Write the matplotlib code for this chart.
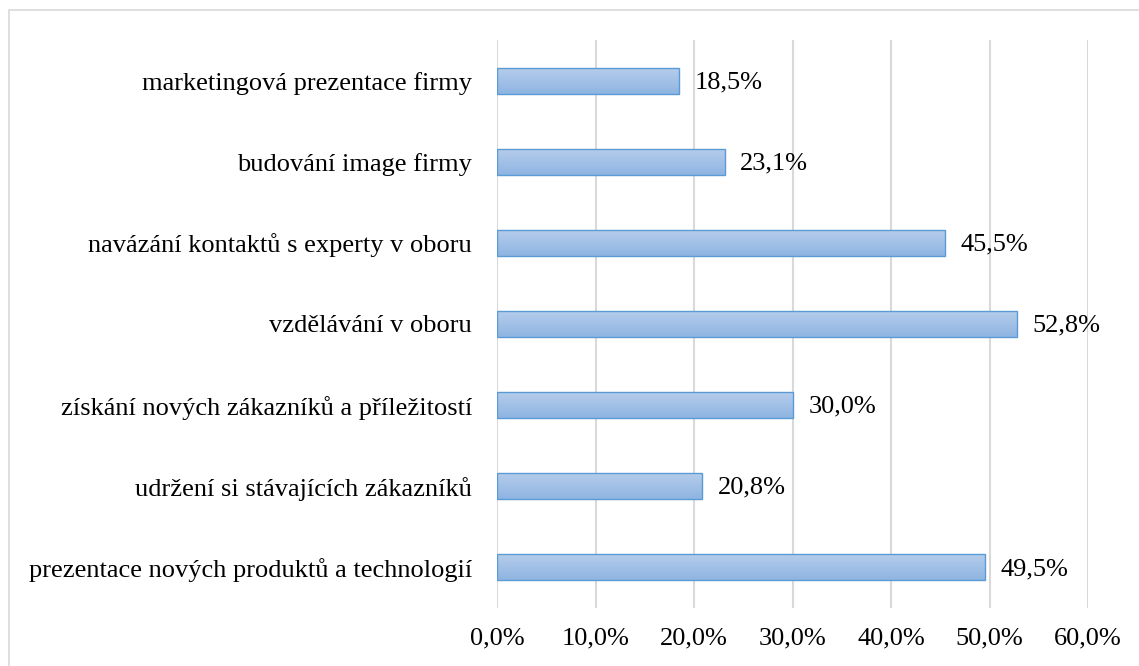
import numpy as np
import matplotlib
matplotlib.use('Agg')
import matplotlib.pyplot as plt
from matplotlib.patches import Rectangle
from matplotlib.colors import LinearSegmentedColormap

# ---- data (bottom -> top) ----
categories = [
    'prezentace nových produktů a technologií',
    'udržení si stávajících zákazníků',
    'získání nových zákazníků a příležitostí',
    'vzdělávání v oboru',
    'navázání kontaktů s experty v oboru',
    'budování image firmy',
    'marketingová prezentace firmy',
]
values = [49.5, 20.8, 30.0, 52.8, 45.5, 23.1, 18.5]
xticks = [0, 10, 20, 30, 40, 50, 60]

plt.rcParams['font.family'] = ['Liberation Serif', 'DejaVu Serif']
FS = 19

W, H = 1139, 666
fig = plt.figure(figsize=(W / 100, H / 100), dpi=100, facecolor='white')
ax = fig.add_axes([497 / W, 58 / H, (1088 - 497) / W, (608 - 40) / H])

# outer chart border (only top/left visible in the reference)
fig.patches.append(Rectangle((9 / W, -0.1), 1.2, 1.1 - 10 / H,
                             transform=fig.transFigure, fill=False,
                             edgecolor='#d9d9d9', lw=1.2, zorder=0))

y = np.arange(len(categories))
bars = ax.barh(y, values, height=0.32, color='none', edgecolor='#5b9bd5',
               lw=1.0, zorder=3)

# vertical gradient fill for each bar
cmap = LinearSegmentedColormap.from_list('g', ['#8fb4e2', '#b5cdeb'])
grad = np.linspace(0, 1, 64).reshape(-1, 1)
for b in bars:
    x0, y0 = b.get_x(), b.get_y()
    w, h = b.get_width(), b.get_height()
    im = ax.imshow(grad, cmap=cmap, aspect='auto', origin='lower',
                   extent=(x0, x0 + w, y0, y0 + h), zorder=2)
    im.set_clip_path(b)

for yi, v in zip(y, values):
    ax.text(v + 1.6, yi - 0.02, f'{v:.1f}%'.replace('.', ','), va='center',
            ha='left', fontsize=FS, color='black')

ax.set_xlim(0, 60)
ax.set_ylim(-0.5, len(categories) - 0.5)
ax.set_xticks(xticks)
ax.set_xticklabels([f'{t:.1f}%'.replace('.', ',') for t in xticks], fontsize=FS)
ax.set_yticks(y)
ax.set_yticklabels(categories, fontsize=FS)
ax.tick_params(axis='both', length=0)
ax.tick_params(axis='y', pad=18)
ax.tick_params(axis='x', pad=14)
ax.xaxis.grid(True, color='#d9d9d9', lw=1.5, zorder=0)
ax.set_axisbelow(True)
for s in ax.spines.values():
    s.set_visible(False)

fig.savefig('out.png', dpi=100, facecolor='white')
